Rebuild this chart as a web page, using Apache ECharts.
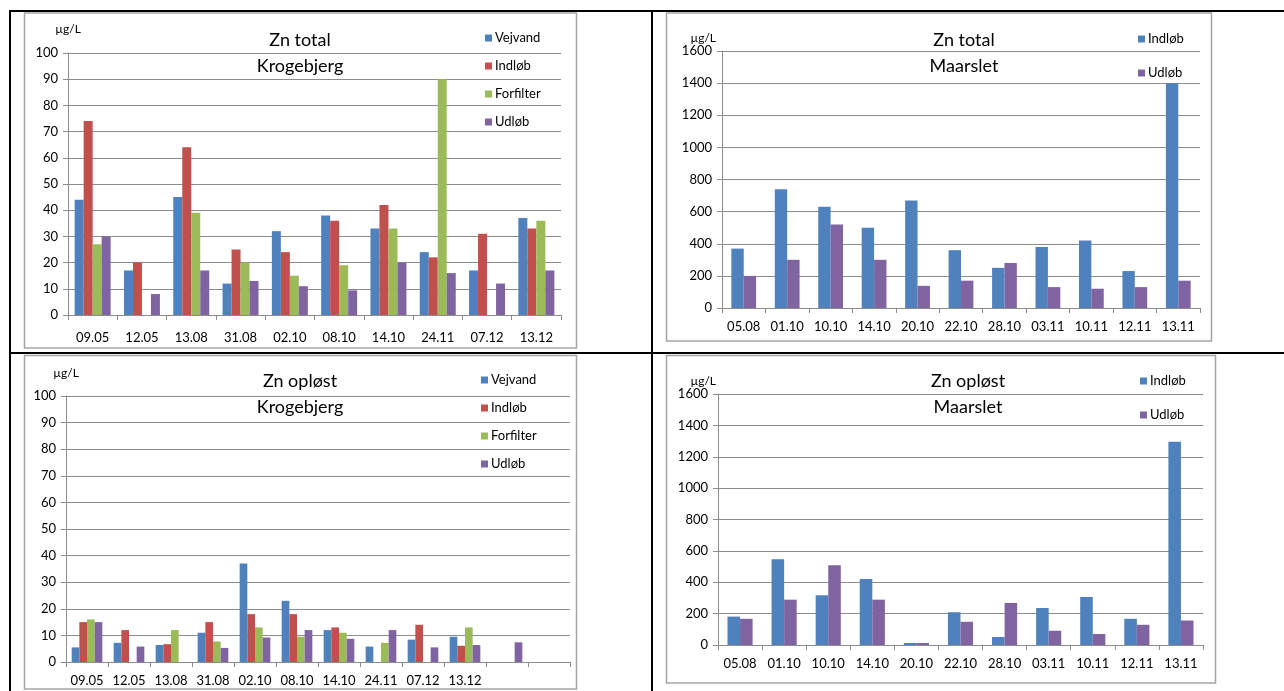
<!DOCTYPE html>
<html>
<head>
<meta charset="utf-8">
<title>Zn total / Zn opløst</title>
<script src="https://cdn.jsdelivr.net/npm/echarts@6/dist/echarts.min.js"></script>
<style>
    html, body {margin: 0; padding: 0; background: #fff;}
    #main {width: 1284px; height: 691px;}
</style>
</head>
<body>
<div id="main"></div>
<script>
// kategorier (datoer)
var krogDates = ['09.05', '12.05', '13.08', '31.08', '02.10', '08.10', '14.10', '24.11', '07.12', '13.12'];
var krogDatesOpl = ['09.05', '12.05', '13.08', '31.08', '02.10', '08.10', '14.10', '24.11', '07.12', '13.12', '', ''];
var maarDates = ['05.08', '01.10', '10.10', '14.10', '20.10', '22.10', '28.10', '03.11', '10.11', '12.11', '13.11'];

// Zn total - Krogebjerg
var totKrogVejvand = [44, 17, 45, 12, 32, 38, 33, 24, 17, 37];
var totKrogIndlob = [74, 20, 64, 25, 24, 36, 42, 22, 31, 33];
var totKrogForfilter = [27, null, 39, 20, 15, 19, 33, 90, null, 36];
var totKrogUdlob = [30, 8, 17, 13, 11, 9.4, 20, 16, 12, 17];

// Zn total - Maarslet
var totMaarIndlob = [370, 740, 630, 500, 670, 360, 250, 380, 420, 230, 1400];
var totMaarUdlob = [200, 300, 520, 300, 138, 170, 280, 130, 120, 130, 170];

// Zn opløst - Krogebjerg
var oplKrogVejvand = [5.5, 7.2, 6.4, 11, 37, 23, 12, 5.8, 8.4, 9.5, null, null];
var oplKrogIndlob = [15, 12, 6.7, 15, 18, 18, 13, null, 14, 6.1, null, null];
var oplKrogForfilter = [16, null, 12, 7.7, 13, 9.5, 11, 7.2, null, 13, null, null];
var oplKrogUdlob = [15, 5.8, null, 5.3, 9.2, 12, 8.7, 12, 5.5, 6.4, 7.4, null];

// Zn opløst - Maarslet
var oplMaarIndlob = [181, 547, 317, 420, 13, 209, 51, 236, 306, 167, 1296];
var oplMaarUdlob = [167, 289, 509, 289, 13, 148, 268, 91, 70, 129, 156];

var krogTicks = {min: 0, max: 100, interval: 10};
var maarTicks = {min: 0, max: 1600, interval: 200};

var FONT = 'Lato, "Open Sans", sans-serif';
var BLUE = '#4f81bd', RED = '#c0504d', GREEN = '#9bbb59', PURPLE = '#8064a2';
var GRIDC = '#8c8c8c';

var mychart = echarts.init(document.getElementById('main'));

function xAx(idx, data, margin) {
    return {
        type: 'category', gridIndex: idx, data: data,
        axisLine: {lineStyle: {color: GRIDC, width: 1}},
        axisTick: {show: true, length: 5, lineStyle: {color: GRIDC}},
        axisLabel: {color: '#000', fontSize: 13, fontFamily: FONT, margin: margin, interval: 0}
    };
}
function yAx(idx, ticks, nameGap, nameAlign, namePad) {
    return {
        type: 'value', gridIndex: idx,
        min: ticks.min, max: ticks.max, interval: ticks.interval,
        name: 'µg/L', nameLocation: 'end', nameGap: nameGap,
        nameTextStyle: {color: '#000', fontSize: 12, fontFamily: FONT, align: nameAlign, padding: namePad},
        axisLine: {show: true, lineStyle: {color: GRIDC, width: 1}},
        axisTick: {show: true, length: 5, lineStyle: {color: GRIDC}},
        splitLine: {show: true, lineStyle: {color: GRIDC, width: 1}},
        axisLabel: {
            color: '#000', fontSize: 13, fontFamily: FONT, margin: 10,
            formatter: function (v) {      // ingen tusind-separator
                return String(v);
            }
        }
    };
}
function bar(name, idx, color, data, gap) {
    return {
        name: name, type: 'bar', xAxisIndex: idx, yAxisIndex: idx,
        barGap: '0%', barCategoryGap: gap,
        itemStyle: {color: color},
        data: data
    };
}
function legend(left, top, gap, names) {
    return {
        orient: 'vertical', left: left, top: top, itemGap: gap,
        itemWidth: 7, itemHeight: 7, icon: 'rect',
        textStyle: {color: '#000', fontSize: 13, fontFamily: FONT, lineHeight: 16, padding: [0, 0, 0, -2]},
        selectedMode: false,
        data: names
    };
}
function title(cx, top, text) {
    return {
        text: text, left: cx, top: top, textAlign: 'center', padding: 0,
        textStyle: {color: '#000', fontSize: 18, fontWeight: 'normal', fontFamily: FONT, lineHeight: 26}
    };
}
function rect(x, y, w, h, fill) {
    return {type: 'rect', shape: {x: x, y: y, width: w, height: h}, style: {fill: fill}, silent: true};
}
function box(x, y, w, h) {
    return {type: 'rect', shape: {x: x, y: y, width: w, height: h},
        style: {fill: null, stroke: '#a5a5a5', lineWidth: 1.5}, silent: true, z: -1};
}

var option = {
    backgroundColor: '#fff',
    animation: false,
    title: [
        title(300, 27, 'Zn total\nKrogebjerg'),
        title(964, 27, 'Zn total\nMaarslet'),
        title(300, 368, 'Zn opløst\nKrogebjerg'),
        title(968, 368, 'Zn opløst\nMaarslet')
    ],
    legend: [
        legend(480, 25, 12, [{name: 'Vejvand', itemStyle: {color: BLUE}}, {name: 'Indløb', itemStyle: {color: RED}},
            {name: 'Forfilter', itemStyle: {color: GREEN}}, {name: 'Udløb', itemStyle: {color: PURPLE}}]),
        legend(1133, 26, 18, [{name: 'Indløb ', itemStyle: {color: BLUE}}, {name: 'Udløb ', itemStyle: {color: PURPLE}}]),
        legend(476, 367, 12, [{name: 'Vejvand  ', itemStyle: {color: BLUE}}, {name: 'Indløb  ', itemStyle: {color: RED}},
            {name: 'Forfilter  ', itemStyle: {color: GREEN}}, {name: 'Udløb  ', itemStyle: {color: PURPLE}}]),
        legend(1135, 368, 18, [{name: 'Indløb   ', itemStyle: {color: BLUE}}, {name: 'Udløb   ', itemStyle: {color: PURPLE}}])
    ],
    grid: [
        {left: 68, top: 53, width: 493, height: 262},
        {left: 722, top: 51, width: 478, height: 257},
        {left: 66, top: 396, width: 504, height: 266},
        {left: 718, top: 394, width: 485, height: 251}
    ],
    xAxis: [xAx(0, krogDates, 16), xAx(1, maarDates, 12), xAx(2, krogDatesOpl, 12), xAx(3, maarDates, 12)],
    yAxis: [
        yAx(0, krogTicks, 18, 'center', 0),
        yAx(1, maarTicks, 2, 'right', [0, 6, 0, 0]),
        yAx(2, krogTicks, 17, 'center', 0),
        yAx(3, maarTicks, 7, 'right', [0, 2, 0, 0])
    ],
    series: [
        bar('Vejvand', 0, BLUE, totKrogVejvand, '27%'),
        bar('Indløb', 0, RED, totKrogIndlob, '27%'),
        bar('Forfilter', 0, GREEN, totKrogForfilter, '27%'),
        bar('Udløb', 0, PURPLE, totKrogUdlob, '27%'),

        bar('Indløb ', 1, BLUE, totMaarIndlob, '43%'),
        bar('Udløb ', 1, PURPLE, totMaarUdlob, '43%'),

        bar('Vejvand  ', 2, BLUE, oplKrogVejvand, '27%'),
        bar('Indløb  ', 2, RED, oplKrogIndlob, '27%'),
        bar('Forfilter  ', 2, GREEN, oplKrogForfilter, '27%'),
        bar('Udløb  ', 2, PURPLE, oplKrogUdlob, '27%'),

        bar('Indløb   ', 3, BLUE, oplMaarIndlob, '43%'),
        bar('Udløb   ', 3, PURPLE, oplMaarUdlob, '43%')
    ],
    graphic: [
        // tabel-linjer
        rect(9, 10, 1275, 2, '#000'),
        rect(9, 10, 2, 681, '#000'),
        rect(651, 10, 2, 681, '#000'),
        rect(9, 352, 1275, 2, '#000'),
        // diagram-rammer
        box(24.5, 13, 552, 335),
        box(666.5, 13, 545, 328),
        box(24.5, 355.5, 552, 333.5),
        box(666.5, 355.5, 549, 327.5)
    ]
};
mychart.setOption(option);

window.addEventListener('resize', function () {
    mychart.resize();
});
</script>
</body>
</html>
